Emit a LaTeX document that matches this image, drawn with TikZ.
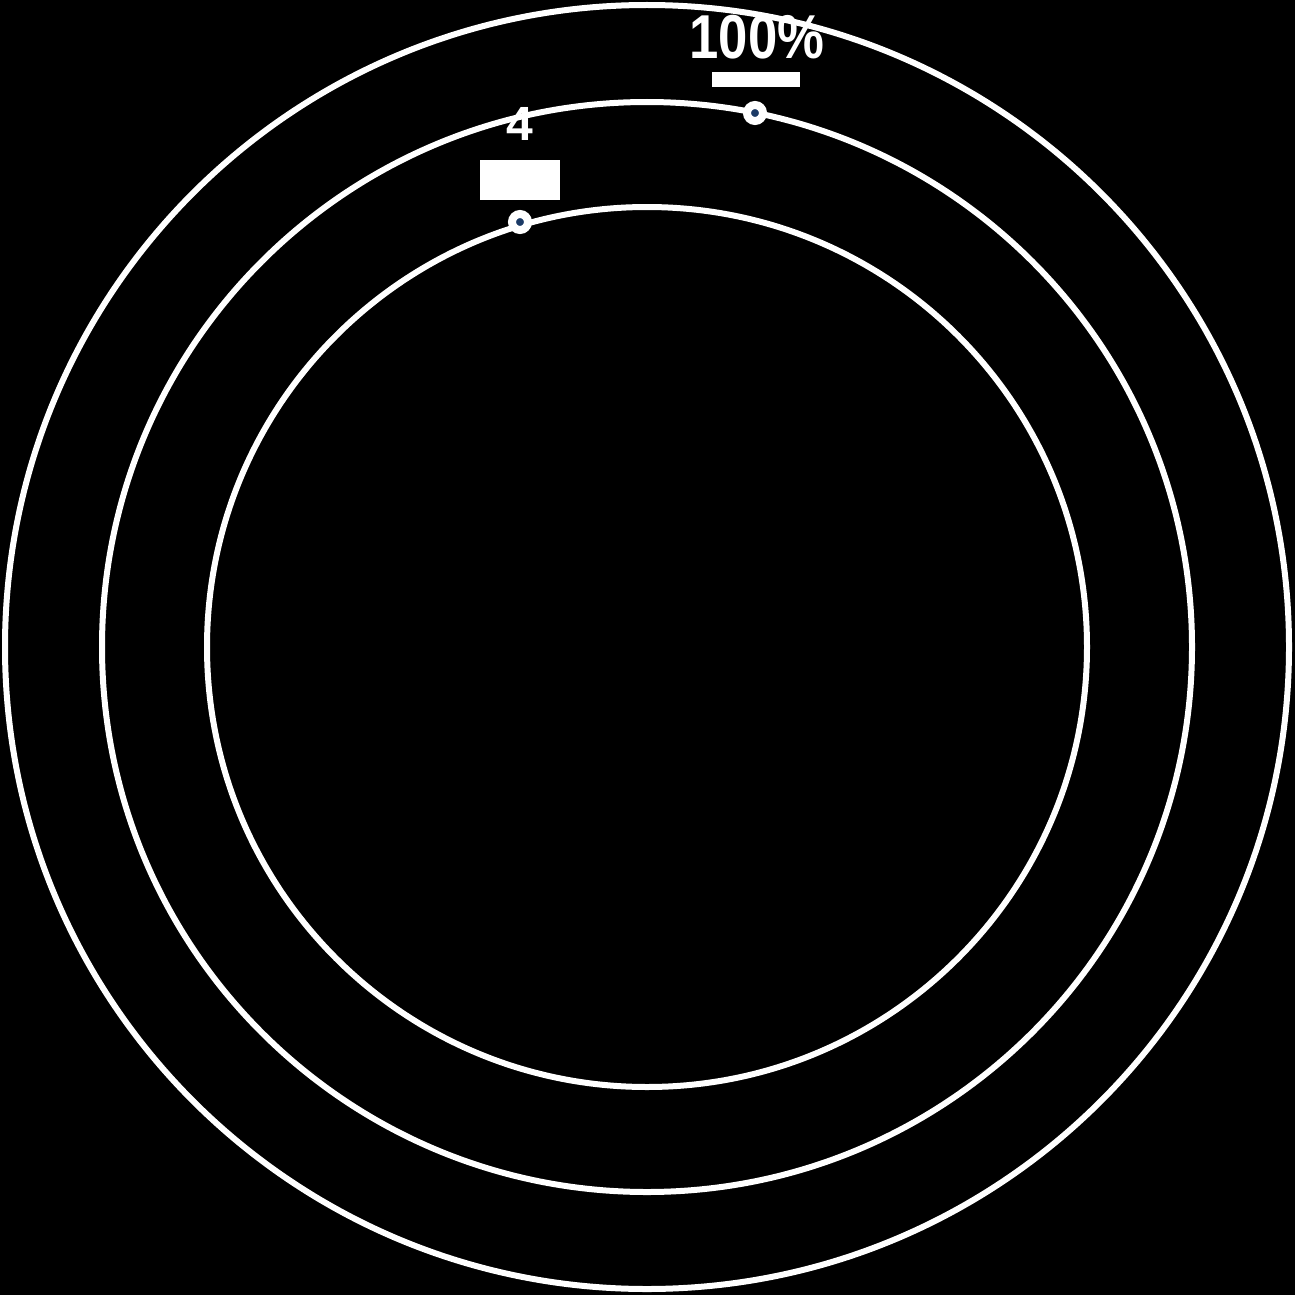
\documentclass[tikz,border=0pt]{standalone}
\usepackage{fontspec}
\setmainfont{Liberation Sans}
\definecolor{dotblue}{HTML}{1B3A66}
\begin{document}
\begin{tikzpicture}[x=1pt,y=-1pt,
  ring/.style={draw=white,line width=6pt},
  planet/.style={circle,fill=dotblue,draw=white,line width=8pt,minimum size=16pt,inner sep=0pt},
  bigtxt/.style={text=white,font=\bfseries\fontsize{62}{62}\selectfont,xscale=0.85,inner sep=0pt},
  smalltxt/.style={text=white,font=\bfseries\fontsize{48}{48}\selectfont,inner sep=0pt},
  bar/.style={fill=white,inner sep=0pt}]
\fill[black] (0,0) rectangle (1295,1295);
\useasboundingbox (0,0) rectangle (1295,1295);
\coordinate (c) at (647,647);
\draw[ring] (c) circle[radius=642pt];
\draw[ring] (c) circle[radius=545pt];
\draw[ring] (c) circle[radius=440pt];
\node[planet] (p1) at (755,113) {};
\node[planet] (p2) at (520,222) {};
\node[bigtxt] (l1) at (757,37) {100\%};
\node[bar,minimum width=88pt,minimum height=15pt] (b1) at (756,80) {};
\node[smalltxt] (l2) at (520,124) {4};
\node[bar,minimum width=80pt,minimum height=40pt] (b2) at (520,180) {};
\end{tikzpicture}
\end{document}
